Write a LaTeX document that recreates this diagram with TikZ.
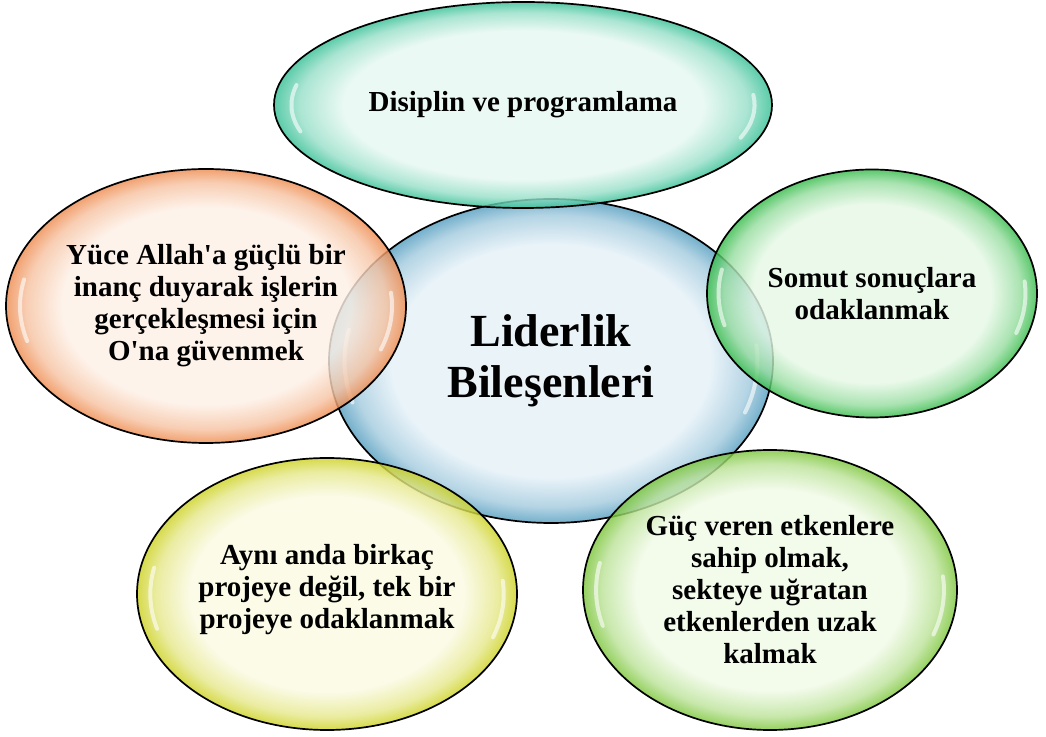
\documentclass[tikz,border=0pt]{standalone}
\usepackage{fontspec}
\setmainfont{Liberation Serif}
\usetikzlibrary{shapes.geometric}
\definecolor{inC}{RGB}{228,240,247}\definecolor{outC}{RGB}{85,158,192}
\definecolor{inT}{RGB}{230,248,241}\definecolor{outT}{RGB}{55,192,150}
\definecolor{inL}{RGB}{253,240,230}\definecolor{outL}{RGB}{238,140,80}
\definecolor{inR}{RGB}{230,248,230}\definecolor{outR}{RGB}{55,188,75}
\definecolor{inY}{RGB}{250,250,226}\definecolor{outY}{RGB}{205,210,35}
\definecolor{inB}{RGB}{240,250,230}\definecolor{outB}{RGB}{125,198,60}
\pgfdeclareradialshading{shC}{\pgfpoint{0bp}{0bp}}{color(0bp)=(inC); color(18bp)=(inC); color(22.5bp)=(inC!55!outC); color(25bp)=(outC); color(50bp)=(outC)}
\pgfdeclareradialshading{shT}{\pgfpoint{0bp}{0bp}}{color(0bp)=(inT); color(18bp)=(inT); color(22.5bp)=(inT!55!outT); color(25bp)=(outT); color(50bp)=(outT)}
\pgfdeclareradialshading{shL}{\pgfpoint{0bp}{0bp}}{color(0bp)=(inL); color(18bp)=(inL); color(22.5bp)=(inL!55!outL); color(25bp)=(outL); color(50bp)=(outL)}
\pgfdeclareradialshading{shR}{\pgfpoint{0bp}{0bp}}{color(0bp)=(inR); color(18bp)=(inR); color(22.5bp)=(inR!55!outR); color(25bp)=(outR); color(50bp)=(outR)}
\pgfdeclareradialshading{shY}{\pgfpoint{0bp}{0bp}}{color(0bp)=(inY); color(18bp)=(inY); color(22.5bp)=(inY!55!outY); color(25bp)=(outY); color(50bp)=(outY)}
\pgfdeclareradialshading{shB}{\pgfpoint{0bp}{0bp}}{color(0bp)=(inB); color(18bp)=(inB); color(22.5bp)=(inB!55!outB); color(25bp)=(outB); color(50bp)=(outB)}
\tikzset{
  bubble/.style={ellipse, draw=black, line width=1.7pt, inner sep=0pt, outer sep=0pt, fill opacity=0.82, draw opacity=1},
  lbl/.style={align=center, text=black, font=\bfseries\fontsize{29}{32}\selectfont},
  biglbl/.style={align=center, text=black, font=\bfseries\fontsize{46}{51}\selectfont},
  gloss/.style={white, line width=4pt, opacity=0.6, line cap=round},
}
\newcommand{\glossy}[3]{%
  \begin{scope}[shift={(#1.center)}]
    \draw[gloss] (168:{0.93*#2} and {0.93*#3}) arc[start angle=168, end angle=196, x radius={0.93*#2}, y radius={0.93*#3}];
    \draw[gloss] (-20:{0.93*#2} and {0.93*#3}) arc[start angle=-20, end angle=6, x radius={0.93*#2}, y radius={0.93*#3}];
  \end{scope}}
\begin{document}
\begin{tikzpicture}[x=1pt,y=1pt]
\useasboundingbox (0,0) rectangle (1046,736);
% centre bubble
\node[bubble, shading=shC, minimum width=444, minimum height=324] (cen) at (551,375) {};
\glossy{cen}{222}{162}
% satellites
\node[bubble, shading=shT, minimum width=498, minimum height=206] (top) at (523,631) {};
\glossy{top}{249}{103}
\node[bubble, shading=shL, minimum width=400, minimum height=274] (lft) at (206,430) {};
\glossy{lft}{200}{137}
\node[bubble, shading=shR, minimum width=330, minimum height=248] (rgt) at (872,442.5) {};
\glossy{rgt}{165}{124}
\node[bubble, shading=shY, minimum width=380, minimum height=272] (bl) at (327,142) {};
\glossy{bl}{190}{136}
\node[bubble, shading=shB, minimum width=374, minimum height=280] (br) at (770,146) {};
\glossy{br}{187}{140}
% texts
\node[biglbl] (tcen) at (cen.center) {Liderlik\\Bileşenleri};
\node[lbl] (ttop) at (top.center) {Disiplin ve programlama};
\node[lbl] (tlft) at (lft.center) {Yüce Allah\textquotesingle a güçlü bir\\inanç duyarak işlerin\\gerçekleşmesi için\\O\textquotesingle na güvenmek};
\node[lbl] (trgt) at (rgt.center) {Somut sonuçlara\\odaklanmak};
\node[lbl] (tbl) at ([yshift=4]bl.center) {Aynı anda birkaç\\projeye değil, tek bir\\projeye odaklanmak};
\node[lbl] (tbr) at (br.center) {Güç veren etkenlere\\sahip olmak,\\sekteye uğratan\\etkenlerden uzak\\kalmak};
\end{tikzpicture}
\end{document}
